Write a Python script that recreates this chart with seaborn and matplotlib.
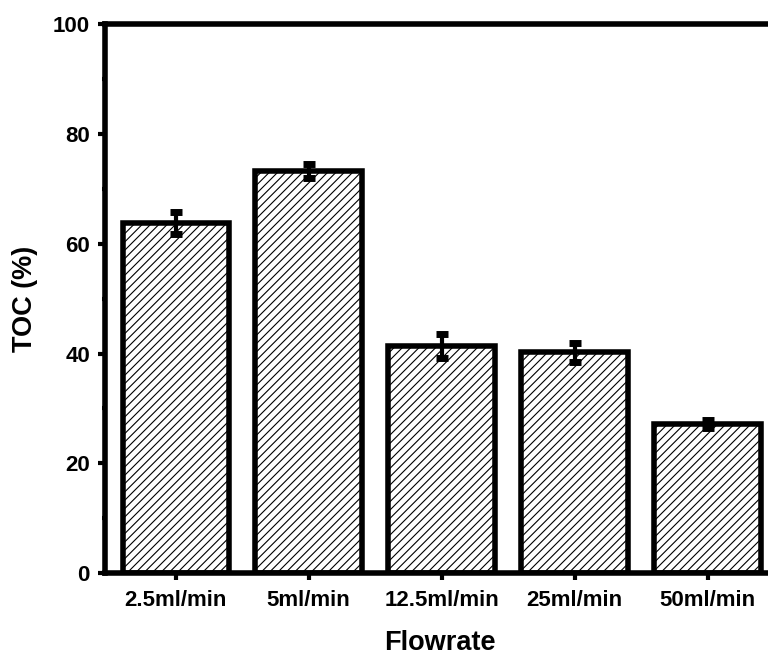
import numpy as np
import pandas as pd
import matplotlib
matplotlib.use('Agg')
import matplotlib.pyplot as plt
import seaborn as sns
from matplotlib.ticker import MultipleLocator

# data
flowrates = ['2.5ml/min', '5ml/min', '12.5ml/min', '25ml/min', '50ml/min']
toc = [63.7, 73.3, 41.4, 40.2, 27.1]
toc_err = [2.0, 1.3, 2.2, 1.8, 0.7]

df = pd.DataFrame({'Flowrate': flowrates, 'TOC': toc})

sns.set_style('ticks')
plt.rcParams['font.family'] = ['Liberation Sans', 'DejaVu Sans']
plt.rcParams['font.weight'] = 'bold'
plt.rcParams['hatch.linewidth'] = 0.8
plt.rcParams['text.color'] = 'black'
plt.rcParams['axes.labelcolor'] = 'black'
plt.rcParams['xtick.color'] = 'black'
plt.rcParams['ytick.color'] = 'black'

fig = plt.figure(figsize=(7.68, 6.56), dpi=100)
ax = fig.add_axes([0.137, 0.1265, 0.871, 0.8365])

sns.barplot(data=df, x='Flowrate', y='TOC', color='white', width=0.8,
            edgecolor='black', linewidth=4, errorbar=None, ax=ax)
for bar in ax.patches:
    bar.set_hatch('////')
    bar.set_facecolor('white')

ax.errorbar(np.arange(len(flowrates)), toc, yerr=toc_err, fmt='none',
            ecolor='black', elinewidth=3, capsize=4.5, capthick=5, zorder=5)

ax.set_xlim(-0.53, 4.5)
ax.set_ylim(0, 100)
ax.yaxis.set_major_locator(MultipleLocator(20))
ax.yaxis.set_minor_locator(MultipleLocator(10))

for side in ['left', 'bottom', 'top', 'right']:
    ax.spines[side].set_visible(True)
    ax.spines[side].set_linewidth(4)
    ax.spines[side].set_color('black')

ax.tick_params(axis='both', which='major', direction='out', length=5,
               width=3, labelsize=16, color='black', labelcolor='black')
ax.tick_params(axis='y', which='minor', direction='out', length=2, width=3)
ax.tick_params(axis='x', which='major', pad=7)
ax.tick_params(axis='y', which='major', pad=6)
for lbl in ax.get_xticklabels() + ax.get_yticklabels():
    lbl.set_fontweight('bold')

ax.set_xlabel('Flowrate', fontsize=19.5, fontweight='bold', labelpad=14)
ax.set_ylabel('TOC (%)', fontsize=19.5, fontweight='bold', labelpad=11)

fig.savefig('out.png', dpi=100)
